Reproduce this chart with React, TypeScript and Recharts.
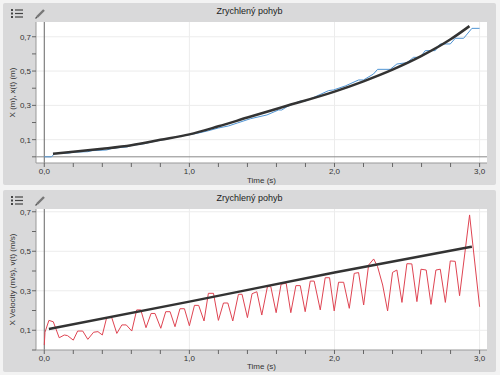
import React from "react";
import { LineChart, Line, XAxis, YAxis, CartesianGrid, ReferenceLine } from "recharts";

const chartTitle = "Zrychlený pohyb";
const timeLabel = "Time (s)";
const posLabel = "X (m), x(t) (m)";
const velLabel = "X Velocity (m/s), v(t) (m/s)";

const timeTicks = [0, 0.2, 0.4, 0.6, 0.8, 1, 1.2, 1.4, 1.6, 1.8, 2, 2.2, 2.4, 2.6, 2.8, 3];
const timeLabelled = [0, 1, 2, 3];
const valueTicks = [0, 0.1, 0.2, 0.3, 0.4, 0.5, 0.6, 0.7];
const valueLabelled = [0.1, 0.3, 0.5, 0.7];

// measured position (blue)
const posT = [0, 0.05, 0.07, 0.17, 0.2, 0.3, 0.33, 0.43, 0.47, 0.57, 0.6, 0.7, 0.73, 0.8, 0.87, 0.93, 1.0, 1.07,
  1.13, 1.2, 1.27, 1.33, 1.42, 1.534, 1.614, 1.637, 1.672, 1.764, 1.798, 1.867, 1.959, 1.993, 2.074, 2.166, 2.2,
  2.269, 2.297, 2.384, 2.43, 2.499, 2.545, 2.591, 2.625, 2.694, 2.729, 2.798, 2.832, 2.89, 2.947, 3.0];
const posX = [0, 0, 0.018, 0.022, 0.027, 0.03, 0.036, 0.04, 0.05, 0.058, 0.066, 0.078, 0.085, 0.097, 0.108, 0.12,
  0.129, 0.14, 0.152, 0.168, 0.18, 0.197, 0.222, 0.244, 0.273, 0.273, 0.292, 0.325, 0.325, 0.35, 0.386, 0.39,
  0.413, 0.448, 0.448, 0.483, 0.51, 0.51, 0.541, 0.549, 0.58, 0.58, 0.619, 0.619, 0.658, 0.658, 0.691, 0.691,
  0.749, 0.749];

// fitted position x(t) (black)
const fitPosT = [0.06, 0.2, 0.4, 0.6, 0.8, 1.0, 1.2, 1.4, 1.65, 2.0, 2.2, 2.4, 2.6, 2.8, 2.93];
const fitPosX = [0.018, 0.029, 0.047, 0.068, 0.099, 0.131, 0.178, 0.229, 0.292, 0.38, 0.44, 0.508, 0.588, 0.685, 0.762];

// measured velocity (red)
const velT = [0, 0.005, 0.032, 0.062, 0.103, 0.138, 0.16, 0.2, 0.23, 0.265, 0.3, 0.34, 0.37, 0.4, 0.43, 0.465,
  0.5, 0.535, 0.565, 0.603, 0.637, 0.665, 0.701, 0.736, 0.763, 0.803, 0.837, 0.867, 0.901, 0.935, 0.966, 1.0,
  1.035, 1.064, 1.101, 1.131, 1.166, 1.2, 1.235, 1.265, 1.299, 1.338, 1.363, 1.4, 1.432, 1.465, 1.499, 1.538,
  1.561, 1.598, 1.632, 1.667, 1.699, 1.734, 1.764, 1.798, 1.833, 1.86, 1.902, 1.936, 1.966, 1.998, 2.028, 2.063,
  2.102, 2.136, 2.166, 2.201, 2.235, 2.27, 2.297, 2.332, 2.366, 2.4, 2.43, 2.465, 2.499, 2.533, 2.568, 2.596,
  2.632, 2.665, 2.699, 2.729, 2.764, 2.798, 2.832, 2.862, 2.931, 3.0];
const velV = [0.025, 0.09, 0.15, 0.143, 0.062, 0.076, 0.073, 0.05, 0.096, 0.096, 0.054, 0.09, 0.093, 0.076, 0.164,
  0.164, 0.084, 0.127, 0.127, 0.096, 0.203, 0.203, 0.113, 0.185, 0.185, 0.11, 0.194, 0.194, 0.118, 0.209, 0.209,
  0.123, 0.226, 0.226, 0.147, 0.287, 0.287, 0.15, 0.238, 0.238, 0.147, 0.282, 0.282, 0.164, 0.285, 0.295, 0.177,
  0.321, 0.321, 0.189, 0.333, 0.338, 0.189, 0.326, 0.326, 0.194, 0.349, 0.349, 0.203, 0.366, 0.366, 0.198, 0.343,
  0.343, 0.211, 0.388, 0.392, 0.228, 0.43, 0.461, 0.422, 0.329, 0.198, 0.393, 0.405, 0.241, 0.437, 0.436, 0.245,
  0.409, 0.405, 0.231, 0.405, 0.409, 0.241, 0.451, 0.449, 0.275, 0.684, 0.219];

// fitted velocity v(t) (black)
const fitVelT = [0.032, 1.0, 2.0, 2.947];
const fitVelV = [0.106, 0.245, 0.392, 0.523];

const toRows = (ts: number[], vs: number[]) => ts.map((t, i) => ({ t, v: vs[i] }));
const fmt = (v: number) => v.toFixed(1).replace(".", ",");
const near = (list: number[], v: number) => list.some((l) => Math.abs(l - v) < 1e-6);

const W = 493;
const H = 182;
const xDomain = [-0.057, 3.051];

const tickStyle = { fontSize: 8, fill: "#333", fontFamily: "Liberation Sans, Arial, sans-serif" };

const ListIcon = () => (
  <svg width="12" height="9" style={{ position: "absolute", left: 8, top: 6 }}>
    {[1, 4.5, 8].map((y) => (
      <g key={y}>
        <rect x={0} y={y - 1} width={2} height={2} fill="#444" />
        <rect x={4} y={y - 0.6} width={8} height={1.2} fill="#444" />
      </g>
    ))}
  </svg>
);

const PencilIcon = () => (
  <svg width="11" height="11" style={{ position: "absolute", left: 32, top: 5 }}>
    <line x1={2} y1={9} x2={9} y2={2} stroke="#777" strokeWidth={2.4} />
    <line x1={0.5} y1={10.5} x2={2} y2={9} stroke="#555" strokeWidth={1.2} />
  </svg>
);

type PanelProps = {
  top: number;
  yLabel: string;
  yDomain: number[];
  zeroLine: boolean;
  timeOffset: number;
  measured: { t: number; v: number }[];
  fitted: { t: number; v: number }[];
  color: string;
};

const Panel: React.FC<PanelProps> = ({ top, yLabel, yDomain, zeroLine, timeOffset, measured, fitted, color }) => {
  const renderYLabel = (props: any) => {
    const vb = props.viewBox || { x: 0, y: 19, width: 33, height: 141 };
    const cx = vb.x + 9;
    const cy = vb.y + vb.height / 2;
    return (
      <text
        x={cx}
        y={cy}
        transform={`rotate(-90, ${cx}, ${cy})`}
        textAnchor="middle"
        dominantBaseline="central"
        style={tickStyle}
      >
        {yLabel}
      </text>
    );
  };

  return (
    <div
      style={{
        position: "absolute",
        left: 3,
        top,
        width: W,
        height: H,
        background: "#d9d9da",
        borderRadius: 2,
      }}
    >
      <ListIcon />
      <PencilIcon />
      <div
        style={{
          position: "absolute",
          left: 0,
          top: 3,
          width: W,
          textAlign: "center",
          fontSize: 9,
          color: "#222",
          fontFamily: "Liberation Sans, Arial, sans-serif",
        }}
      >
        {chartTitle}
      </div>
      <LineChart width={W} height={H} margin={{ top: 19, right: 9, bottom: 0, left: 0 }}>
        <CartesianGrid
          fill="#fff"
          stroke="#ececec"
          verticalValues={[1, 2, 3]}
          horizontalValues={valueLabelled}
        />
        <XAxis
          dataKey="t"
          type="number"
          domain={xDomain}
          allowDataOverflow
          ticks={timeTicks}
          tickFormatter={(v: number) => (near(timeLabelled, v) ? fmt(v) : "")}
          tick={tickStyle}
          tickSize={4}
          tickMargin={1}
          height={22}
          stroke="#999"
          tickLine={{ stroke: "#666" }}
          label={{ value: timeLabel, position: "insideBottom", offset: timeOffset, style: tickStyle }}
        />
        <XAxis xAxisId="top" orientation="top" type="number" domain={[0, 1]} height={0} tick={false} tickLine={false} stroke="#999" />
        <YAxis
          type="number"
          domain={yDomain}
          allowDataOverflow
          ticks={valueTicks}
          tickFormatter={(v: number) => (near(valueLabelled, v) ? fmt(v) : "")}
          tick={tickStyle}
          tickSize={4}
          tickMargin={1}
          width={33}
          stroke="#999"
          tickLine={{ stroke: "#666" }}
          label={{ content: renderYLabel }}
        />
        <YAxis yAxisId="right" orientation="right" type="number" domain={[0, 1]} width={0} tick={false} tickLine={false} stroke="#999" />
        <ReferenceLine x={0} stroke="#666" strokeWidth={1} />
        {zeroLine && <ReferenceLine y={0} stroke="#888" strokeWidth={1} />}
        <Line
          data={measured}
          dataKey="v"
          type="linear"
          stroke={color}
          strokeWidth={1}
          dot={false}
          isAnimationActive={false}
        />
        <Line
          data={fitted}
          dataKey="v"
          type="monotone"
          stroke="#333"
          strokeWidth={2.5}
          dot={false}
          isAnimationActive={false}
        />
      </LineChart>
    </div>
  );
};

export default function App() {
  return (
    <div style={{ position: "absolute", left: 0, top: 0, width: 500, height: 375, background: "#f3f3f3" }}>
      <Panel
        top={3}
        yLabel={posLabel}
        yDomain={[-0.036, 0.786]}
        zeroLine
        timeOffset={2}
        measured={toRows(posT, posX)}
        fitted={toRows(fitPosT, fitPosX)}
        color="#4f94d4"
      />
      <Panel
        top={190}
        yLabel={velLabel}
        yDomain={[0, 0.714]}
        zeroLine={false}
        timeOffset={3}
        measured={toRows(velT, velV)}
        fitted={toRows(fitVelT, fitVelV)}
        color="#df4452"
      />
    </div>
  );
}
